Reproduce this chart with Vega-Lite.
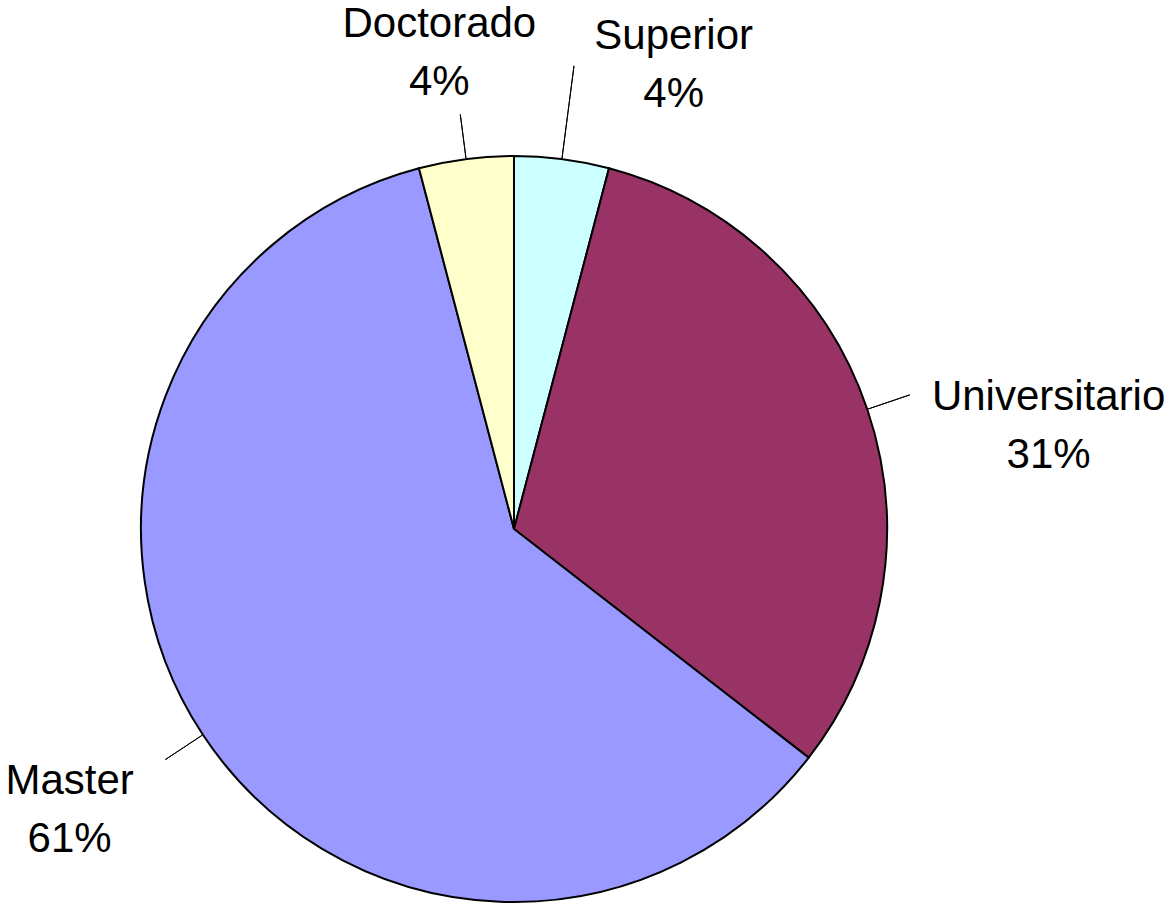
{
  "$schema": "https://vega.github.io/schema/vega-lite/v6.json",
  "width": 1028,
  "height": 754,
  "autosize": {"type": "none"},
  "padding": {"left": 0, "top": 152, "right": 144, "bottom": 0},
  "background": "white",
  "config": {"view": {"stroke": null}},
  "data": {
    "values": [
      {"cat": "Superior", "value": 4.1, "orden": 1, "label": "Superior\n4%"},
      {"cat": "Universitario", "value": 31.4, "orden": 2, "label": "Universitario\n31%"},
      {"cat": "Master", "value": 60.4, "orden": 3, "label": "Master\n61%"},
      {"cat": "Doctorado", "value": 4.1, "orden": 4, "label": "Doctorado\n4%"}
    ]
  },
  "resolve": {"scale": {"theta": "independent"}},
  "layer": [
    {
      "mark": {"type": "arc", "radius": 373, "stroke": "black", "strokeWidth": 2},
      "encoding": {
        "theta": {"field": "value", "type": "quantitative", "stack": true},
        "order": {"field": "orden", "type": "quantitative"},
        "color": {
          "field": "cat",
          "type": "nominal",
          "scale": {
            "domain": ["Superior", "Universitario", "Master", "Doctorado"],
            "range": ["#CCFFFF", "#993366", "#9999FF", "#FFFFCC"]
          },
          "legend": null
        }
      }
    },
    {
      "transform": [
        {"fold": ["value", "value"], "as": ["k", "v"]},
        {"window": [{"op": "row_number", "as": "rn"}], "groupby": ["cat"]},
        {"stack": "v", "groupby": [], "sort": [{"field": "orden", "order": "ascending"}, {"field": "rn", "order": "ascending"}], "as": ["s0", "s1"]},
        {"filter": "datum.rn === 1 && datum.cat === 'Superior'"}
      ],
      "mark": {"type": "arc", "radius": 467, "radius2": 374, "fill": null, "stroke": "black", "strokeWidth": 1},
      "encoding": {
        "theta": {"field": "s1", "type": "quantitative", "stack": null, "scale": {"domain": [0, 200]}},
        "theta2": {"field": "s1"}
      }
    },
    {
      "transform": [
        {"fold": ["value", "value"], "as": ["k", "v"]},
        {"window": [{"op": "row_number", "as": "rn"}], "groupby": ["cat"]},
        {"stack": "v", "groupby": [], "sort": [{"field": "orden", "order": "ascending"}, {"field": "rn", "order": "ascending"}], "as": ["s0", "s1"]},
        {"filter": "datum.rn === 1 && datum.cat !== 'Superior'"}
      ],
      "mark": {"type": "arc", "radius": 418, "radius2": 374, "fill": null, "stroke": "black", "strokeWidth": 1},
      "encoding": {
        "theta": {"field": "s1", "type": "quantitative", "stack": null, "scale": {"domain": [0, 200]}},
        "theta2": {"field": "s1"}
      }
    },
    {
      "mark": {"type": "text", "radius": 480, "dx": 98, "dy": -17, "font": "Liberation Sans", "fontSize": 42, "lineHeight": 58, "lineBreak": "\n", "align": "center", "baseline": "middle", "color": "black"},
      "encoding": {
        "theta": {"field": "value", "type": "quantitative", "stack": true},
        "order": {"field": "orden", "type": "quantitative"},
        "text": {"condition": {"test": "datum.cat === 'Superior'", "field": "label"}, "value": ""}
      }
    },
    {
      "mark": {"type": "text", "radius": 480, "dx": 80, "dy": 22, "font": "Liberation Sans", "fontSize": 42, "lineHeight": 58, "lineBreak": "\n", "align": "center", "baseline": "middle", "color": "black"},
      "encoding": {
        "theta": {"field": "value", "type": "quantitative", "stack": true},
        "order": {"field": "orden", "type": "quantitative"},
        "text": {"condition": {"test": "datum.cat === 'Universitario'", "field": "label"}, "value": ""}
      }
    },
    {
      "mark": {"type": "text", "radius": 480, "dx": -44, "dy": -13, "font": "Liberation Sans", "fontSize": 42, "lineHeight": 58, "lineBreak": "\n", "align": "center", "baseline": "middle", "color": "black"},
      "encoding": {
        "theta": {"field": "value", "type": "quantitative", "stack": true},
        "order": {"field": "orden", "type": "quantitative"},
        "text": {"condition": {"test": "datum.cat === 'Master'", "field": "label"}, "value": ""}
      }
    },
    {
      "mark": {"type": "text", "radius": 480, "dx": -13, "dy": -29, "font": "Liberation Sans", "fontSize": 42, "lineHeight": 58, "lineBreak": "\n", "align": "center", "baseline": "middle", "color": "black"},
      "encoding": {
        "theta": {"field": "value", "type": "quantitative", "stack": true},
        "order": {"field": "orden", "type": "quantitative"},
        "text": {"condition": {"test": "datum.cat === 'Doctorado'", "field": "label"}, "value": ""}
      }
    }
  ]
}
